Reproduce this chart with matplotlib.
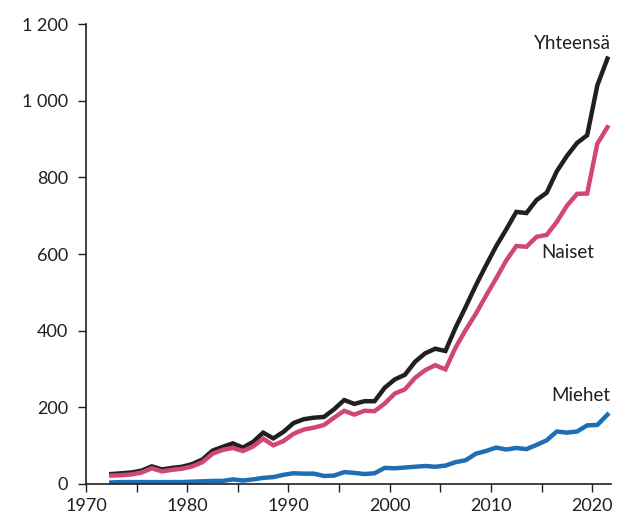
import numpy as np
import matplotlib
matplotlib.use("Agg")
import matplotlib.pyplot as plt
from matplotlib.ticker import FuncFormatter, MultipleLocator

# years and series
years = np.arange(1972, 2022)

yhteensa = [26, 28, 30, 35, 46, 38, 42, 45, 52, 64,
            87, 97, 106, 95, 110, 134, 119, 136, 159, 169,
            173, 175, 195, 219, 209, 216, 216, 251, 273, 285,
            319, 341, 353, 347, 408, 462, 518, 570, 620, 664,
            710, 707, 741, 760, 816, 856, 890, 910, 1040, 1110]

naiset = [22, 23, 25, 30, 41, 33, 37, 40, 46, 57,
          79, 89, 94, 86, 98, 118, 101, 112, 131, 142,
          147, 154, 173, 191, 181, 191, 190, 210, 236, 247,
          277, 297, 310, 299, 356, 402, 444, 491, 536, 583,
          621, 619, 645, 650, 684, 726, 757, 758, 888, 931]

miehet = [4, 5, 5, 5, 5, 5, 5, 5, 6, 7,
          8, 8, 12, 9, 12, 16, 18, 24, 28, 27,
          27, 21, 22, 31, 29, 26, 28, 42, 41, 43,
          45, 47, 45, 48, 57, 62, 79, 86, 95, 90,
          94, 91, 102, 114, 137, 134, 137, 153, 154, 181]

plt.rcParams['font.family'] = ['Lato', 'DejaVu Sans']

fig = plt.figure(figsize=(6.3, 5.22), dpi=100)
ax = fig.add_axes([0.1365, 0.0728, 0.8333, 0.881])

# points sit in the middle of each year slot (category axis)
x = years + 0.5
ax.plot(x, yhteensa, color="#231f20", lw=3.2, solid_joinstyle="miter")
ax.plot(x, naiset, color="#d0457a", lw=3.2, solid_joinstyle="miter")
ax.plot(x, miehet, color="#1f6db2", lw=3.2, solid_joinstyle="miter")

ax.set_xlim(1970, 2021.85)
ax.set_ylim(0, 1200)

ax.xaxis.set_major_locator(MultipleLocator(10))
ax.xaxis.set_minor_locator(MultipleLocator(5))
ax.yaxis.set_major_locator(MultipleLocator(200))
ax.yaxis.set_major_formatter(FuncFormatter(lambda v, p: f"{int(v):,}".replace(",", " ")))

ax.tick_params(axis="both", which="both", direction="out", colors="#231f20",
               labelsize=13, width=1)
ax.tick_params(axis="y", length=6, pad=7)
ax.tick_params(axis="x", which="major", length=6, pad=4)
ax.tick_params(axis="x", which="minor", length=6)

for s in ["top", "right"]:
    ax.spines[s].set_visible(False)
for s in ["left", "bottom"]:
    ax.spines[s].set_color("#231f20")
    ax.spines[s].set_linewidth(1.2)

ax.text(2021.8, 1150, "Yhteensä", ha="right", va="center", fontsize=13.5, color="#231f20")
ax.text(2020.2, 605, "Naiset", ha="right", va="center", fontsize=13.5, color="#231f20")
ax.text(2021.8, 230, "Miehet", ha="right", va="center", fontsize=13.5, color="#231f20")

fig.savefig("out.png", dpi=100)
